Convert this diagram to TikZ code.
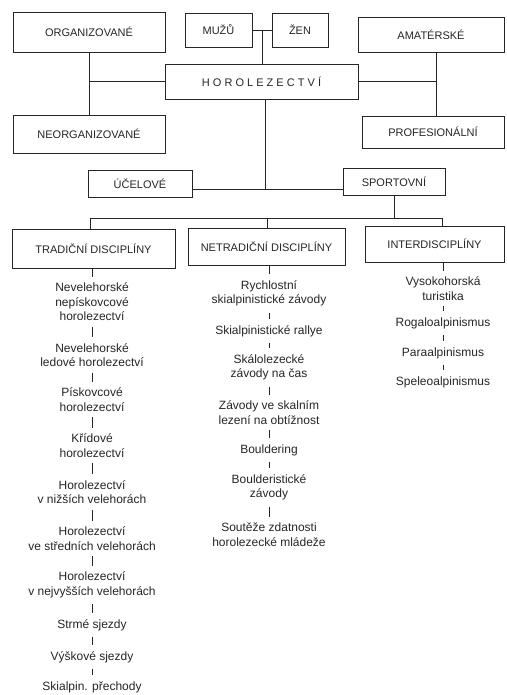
\documentclass[tikz,border=0pt]{standalone}
\usepackage{fontspec}
\setmainfont{Liberation Sans}
\usetikzlibrary{calc}
\begin{document}
\begin{tikzpicture}[x=1pt,y=-1pt,
  every node/.style={text=black!85},
  box/.style={draw=black!85, line width=0.9pt, font=\fontsize{11}{13}\selectfont, inner sep=0pt},
  item/.style={align=center, font=\fontsize{12}{14.5}\selectfont, inner xsep=0pt, inner ysep=6pt},
  conn/.style={draw=black!85, line width=0.9pt}]
\useasboundingbox[fill=white] (0,0) rectangle (506,695);
% top boxes
\node[box, minimum width=152pt, minimum height=40pt] (org) at (89,32) {ORGANIZOVANÉ};
\node[box, minimum width=67pt, minimum height=34pt] (muzu) at (218.5,30) {MUŽŮ};
\node[box, minimum width=56pt, minimum height=34pt] (zen) at (300,30) {ŽEN};
\node[box, minimum width=146pt, minimum height=35pt] (amat) at (431,34.5) {AMATÉRSKÉ};
\node[box, minimum width=193pt, minimum height=35pt] (horo) at (261.5,81.5) {H O R O L E Z E C T V Í};
\node[box, minimum width=152pt, minimum height=38pt] (neorg) at (89,134) {NEORGANIZOVANÉ};
\node[box, minimum width=142pt, minimum height=32pt] (prof) at (433,132) {PROFESIONÁLNÍ};
\node[box, minimum width=104pt, minimum height=27pt] (ucel) at (140,183.5) {ÚČELOVÉ};
\node[box, minimum width=102pt, minimum height=27pt] (sport) at (394,181.5) {SPORTOVNÍ};
\node[box, minimum width=163pt, minimum height=39pt] (trad) at (93.5,248.5) {TRADIČNÍ DISCIPLÍNY};
\node[box, minimum width=157pt, minimum height=37pt] (netrad) at (266.5,246.5) {NETRADIČNÍ DISCIPLÍNY};
\node[box, minimum width=139pt, minimum height=36pt] (inter) at (434.5,244) {INTERDISCIPLÍNY};

% connectors top
\coordinate (mz) at ($(muzu.east)!0.5!(zen.west)$);
\draw[conn] (muzu.east) -- (zen.west);
\draw[conn] (mz) -- (mz |- horo.north);
\draw[conn] (org.south) -- (neorg.north);
\draw[conn] (horo.west) -- (horo.west -| org.south);
\coordinate (rv) at (436,82);
\draw[conn] (amat.south -| rv) -- (prof.north -| rv);
\draw[conn] (horo.east) -- (horo.east -| rv);
\coordinate (hv) at (265,189);
\draw[conn] (horo.south -| hv) -- (hv);
\draw[conn] (ucel.east |- hv) -- (sport.west |- hv);
\coordinate (busl) at (90,218);
\coordinate (busm) at (267,218);
\coordinate (busr) at (442,218);
\draw[conn] (sport.south) -- (sport.south |- busl);
\draw[conn] (busl) -- (busr);
\draw[conn] (busl) -- (busl |- trad.north);
\draw[conn] (busm) -- (busm |- netrad.north);
\draw[conn] (busr) -- (busr |- inter.north);

% left column
\node[item] (l1) at (92,302) {Nevelehorské\\nepískovcové\\horolezectví};
\node[item] (l2) at (92,355) {Nevelehorské\\ledové horolezectví};
\node[item] (l3) at (92,399.5) {Pískovcové\\horolezectví};
\node[item] (l4) at (92,445.5) {Křídové\\horolezectví};
\node[item] (l5) at (92,492) {Horolezectví\\v nižších velehorách};
\node[item] (l6) at (92,538.5) {Horolezectví\\ve středních velehorách};
\node[item] (l7) at (92,585) {Horolezectví\\v nejvyšších velehorách};
\node[item] (l8) at (92,625) {Strmé sjezdy};
\node[item] (l9) at (92,657) {Výškové sjezdy};
\node[item] (l10) at (92,687) {Skialpin. přechody};
\draw[conn] (l1.north |- trad.south) -- (l1.north);
\foreach \a/\b in {l1/l2,l2/l3,l3/l4,l4/l5,l5/l6,l6/l7,l7/l8,l8/l9,l9/l10}
  \draw[conn] (\a.south) -- (\b.north);

% middle column
\node[item] (m1) at (269,293.5) {Rychlostní\\skialpinistické závody};
\node[item] (m2) at (269,331) {Skialpinistické rallye};
\node[item] (m3) at (269,367.5) {Skálolezecké\\závody na čas};
\node[item] (m4) at (269,412.5) {Závody ve skalním\\lezení na obtížnost};
\node[item] (m5) at (269,450) {Bouldering};
\node[item] (m6) at (269,487.5) {Boulderistické\\závody};
\node[item] (m7) at (269,534.5) {Soutěže zdatnosti\\horolezecké mládeže};
\draw[conn] (m1.north |- netrad.south) -- (m1.north);
\foreach \a/\b in {m1/m2,m2/m3,m3/m4,m4/m5,m5/m6,m6/m7}
  \draw[conn] (\a.south) -- (\b.north);

% right column
\node[item] (r1) at (443,288.5) {Vysokohorská\\turistika};
\node[item] (r2) at (443,323) {Rogaloalpinismus};
\node[item] (r3) at (443,353) {Paraalpinismus};
\node[item] (r4) at (443,382) {Speleoalpinismus};
\draw[conn] (r1.north |- inter.south) -- (r1.north);
\foreach \a/\b in {r1/r2,r2/r3,r3/r4}
  \draw[conn] (\a.south) -- (\b.north);
\end{tikzpicture}
\end{document}
